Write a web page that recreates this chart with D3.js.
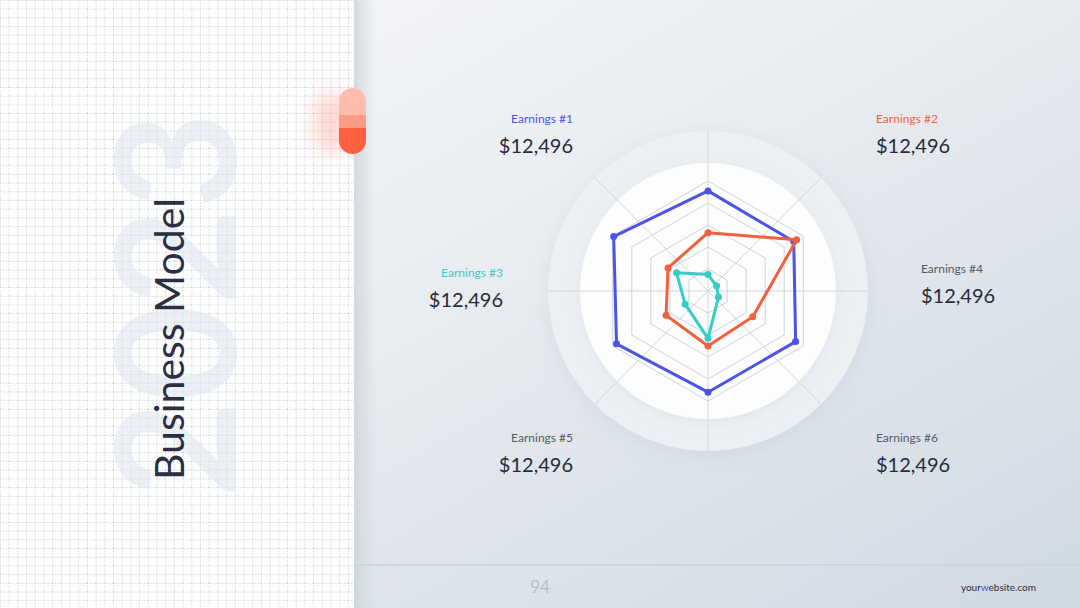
<!DOCTYPE html>
<html>
<head>
<meta charset="utf-8">
<script src="https://cdn.jsdelivr.net/npm/d3@7/dist/d3.min.js"></script>
<style>
  html, body { margin: 0; padding: 0; background: #fff; }
  svg { display: block; }
</style>
</head>
<body>
<svg id="chart" width="1080" height="608"></svg>
<script>
// ---------------- data ----------------
const axisKeys = ["E1", "E2", "E4", "E6", "E5", "E3"]; // clockwise from top
const seriesNames = ["Blue", "Red", "Teal"];
const blueValues = [91, 90, 92, 92, 96, 99];
const redValues  = [53, 93, 47, 50, 44, 42];
const tealValues = [15, 9, 11, 43, 24, 33];
const seriesColors = ["#4a54e6", "#f2603d", "#36cdc4"];
const radarMax = 100;
const gridLevels = [20, 40, 60, 80, 100];

const labelTitles = ["Earnings #1", "Earnings #2", "Earnings #3", "Earnings #4", "Earnings #5", "Earnings #6"];
const labelValues = ["$12,496", "$12,496", "$12,496", "$12,496", "$12,496", "$12,496"];
const labelColors = ["#4a54e6", "#f2603d", "#36cdc4", "#555a63", "#555a63", "#555a63"];
const labelX      = [573, 876, 503, 921, 573, 876];
const labelAnchor = ["end", "start", "end", "start", "end", "start"];
const labelY      = [123, 123, 277, 273, 442, 442];

const titleText = "Business Model";
const yearText = "2023";
const pageNumber = "94";

// ---------------- drawing ----------------
const W = 1080, H = 608;
const svg = d3.select("#chart");
const defs = svg.append("defs");

// background gradient
const bg = defs.append("linearGradient").attr("id", "bgGrad")
  .attr("x1", "0").attr("y1", "0").attr("x2", "1").attr("y2", "1");
bg.append("stop").attr("offset", "0%").attr("stop-color", "#f8f9fa");
bg.append("stop").attr("offset", "45%").attr("stop-color", "#e9ecf0");
bg.append("stop").attr("offset", "100%").attr("stop-color", "#cfd9e3");

// panel edge shadow
const edge = defs.append("linearGradient").attr("id", "edgeGrad")
  .attr("x1", "0").attr("y1", "0").attr("x2", "1").attr("y2", "0");
edge.append("stop").attr("offset", "0%").attr("stop-color", "#c9d0d8").attr("stop-opacity", 0.7);
edge.append("stop").attr("offset", "100%").attr("stop-color", "#c9d0d8").attr("stop-opacity", 0);

// grid pattern
const pat = defs.append("pattern").attr("id", "gridPat")
  .attr("width", 8.7).attr("height", 8.7).attr("patternUnits", "userSpaceOnUse");
pat.append("path").attr("d", "M0 0.5 H8.7").attr("stroke", "#c8ced6")
  .attr("stroke-width", 1).attr("stroke-dasharray", "1 1.6");
pat.append("path").attr("d", "M0.5 0 V8.7").attr("stroke", "#c8ced6")
  .attr("stroke-width", 1).attr("stroke-dasharray", "1 1.6");

// filters
const sh = defs.append("filter").attr("id", "discShadow")
  .attr("x", "-30%").attr("y", "-30%").attr("width", "160%").attr("height", "160%");
sh.append("feDropShadow").attr("dx", 0).attr("dy", 4).attr("stdDeviation", 10)
  .attr("flood-color", "#8a96a6").attr("flood-opacity", 0.16);
const sh2 = defs.append("filter").attr("id", "innerShadow")
  .attr("x", "-30%").attr("y", "-30%").attr("width", "160%").attr("height", "160%");
sh2.append("feDropShadow").attr("dx", 0).attr("dy", 3).attr("stdDeviation", 7)
  .attr("flood-color", "#8a96a6").attr("flood-opacity", 0.14);
const glow = defs.append("filter").attr("id", "glow")
  .attr("x", "-100%").attr("y", "-50%").attr("width", "300%").attr("height", "200%");
glow.append("feGaussianBlur").attr("stdDeviation", 9);

// main background
svg.append("rect").attr("width", W).attr("height", H).attr("fill", "url(#bgGrad)");

// left panel
svg.append("rect").attr("x", 354).attr("y", 0).attr("width", 22).attr("height", H).attr("fill", "url(#edgeGrad)");
svg.append("rect").attr("x", 0).attr("y", 0).attr("width", 354).attr("height", H).attr("fill", "#fefefe");
svg.append("rect").attr("x", 0).attr("y", 0).attr("width", 354).attr("height", H).attr("fill", "url(#gridPat)");

// big year text
svg.append("text")
  .attr("transform", "translate(236,305) rotate(-90)")
  .attr("text-anchor", "middle")
  .attr("font-family", "Lato, 'Open Sans', sans-serif")
  .attr("font-weight", 700)
  .attr("font-size", 166)
  .attr("fill", "#dfe6ee")
  .attr("fill-opacity", 0.6)
  .text(yearText);

// title
svg.append("text")
  .attr("transform", "translate(184,339) rotate(-90)")
  .attr("text-anchor", "middle")
  .attr("font-family", "Lato, 'Open Sans', sans-serif")
  .attr("font-size", 41)
  .attr("fill", "#2a3042")
  .text(titleText);

// pill with glow
svg.append("rect").attr("x", 314).attr("y", 94).attr("width", 38).attr("height", 58)
  .attr("rx", 14).attr("fill", "#ff9a86").attr("opacity", 0.35).attr("filter", "url(#glow)");
const pillClip = defs.append("clipPath").attr("id", "pillClip");
pillClip.append("rect").attr("x", 339).attr("y", 88).attr("width", 27).attr("height", 66).attr("rx", 13.5);
const pill = svg.append("g").attr("clip-path", "url(#pillClip)");
pill.append("rect").attr("x", 339).attr("y", 88).attr("width", 27).attr("height", 27).attr("fill", "#ffbcad");
pill.append("rect").attr("x", 339).attr("y", 115).attr("width", 27).attr("height", 13).attr("fill", "#ff9b85");
pill.append("rect").attr("x", 339).attr("y", 128).attr("width", 27).attr("height", 26).attr("fill", "#ff603f");

// radar
const cx = 708, cy = 291;
const rOuterDisc = 160, rInnerDisc = 128, rRadar = 110;
const g = svg.append("g").attr("transform", `translate(${cx},${cy})`);

g.append("circle").attr("r", rOuterDisc).attr("fill", "#edf0f3").attr("filter", "url(#discShadow)");
g.append("circle").attr("r", rInnerDisc).attr("fill", "#fdfdfe").attr("filter", "url(#innerShadow)");

// spokes (8 directions)
const spokeAngles = d3.range(8).map(i => i * Math.PI / 4);
g.selectAll("line.spoke").data(spokeAngles).join("line")
  .attr("class", "spoke")
  .attr("x1", 0).attr("y1", 0)
  .attr("x2", a => rOuterDisc * Math.cos(a))
  .attr("y2", a => rOuterDisc * Math.sin(a))
  .attr("stroke", "#d3d7dc").attr("stroke-width", 1);

const rScale = d3.scaleLinear().domain([0, radarMax]).range([0, rRadar]);
const angleScale = d3.scalePoint().domain(axisKeys).range([0, 2 * Math.PI * (axisKeys.length - 1) / axisKeys.length]);

const radial = d3.lineRadial()
  .angle((d, i) => angleScale(axisKeys[i]))
  .radius(d => rScale(d))
  .curve(d3.curveLinearClosed);

// grid hexagons
g.selectAll("path.grid").data(gridLevels).join("path")
  .attr("class", "grid")
  .attr("d", lv => radial(axisKeys.map(() => lv)))
  .attr("fill", "none").attr("stroke", "#c9d3de").attr("stroke-width", 1);

// series
const allSeries = [blueValues, redValues, tealValues];
const sg = g.selectAll("g.series").data(allSeries).join("g").attr("class", "series");
sg.append("path")
  .attr("d", d => radial(d))
  .attr("fill", "none")
  .attr("stroke", (d, i) => seriesColors[i])
  .attr("stroke-width", 3)
  .attr("stroke-linejoin", "round");
sg.each(function(vals, si) {
  d3.select(this).selectAll("circle").data(vals).join("circle")
    .attr("cx", (v, i) => rScale(v) * Math.sin(angleScale(axisKeys[i])))
    .attr("cy", (v, i) => -rScale(v) * Math.cos(angleScale(axisKeys[i])))
    .attr("r", 3.5)
    .attr("fill", seriesColors[si]);
});

// labels
const lg = svg.selectAll("g.lab").data(labelTitles).join("g").attr("class", "lab");
lg.append("text")
  .attr("x", (d, i) => labelX[i]).attr("y", (d, i) => labelY[i])
  .attr("text-anchor", (d, i) => labelAnchor[i])
  .attr("font-family", "Lato, 'Open Sans', sans-serif")
  .attr("font-size", 12)
  .attr("fill", (d, i) => labelColors[i])
  .text(d => d);
lg.append("text")
  .attr("x", (d, i) => labelX[i]).attr("y", (d, i) => labelY[i] + 30)
  .attr("text-anchor", (d, i) => labelAnchor[i])
  .attr("font-family", "Lato, 'Open Sans', sans-serif")
  .attr("font-size", 20)
  .attr("fill", "#262b38")
  .text((d, i) => labelValues[i]);

// footer
svg.append("line").attr("x1", 354).attr("x2", W).attr("y1", 565).attr("y2", 565)
  .attr("stroke", "#cdd5de").attr("stroke-width", 2);
svg.append("text").attr("x", 540).attr("y", 593).attr("text-anchor", "middle")
  .attr("font-family", "Lato, 'Open Sans', sans-serif").attr("font-size", 17)
  .attr("fill", "#b7bec8").text(pageNumber);
const site = svg.append("text").attr("x", 1036).attr("y", 591).attr("text-anchor", "end")
  .attr("font-family", "Lato, 'Open Sans', sans-serif").attr("font-size", 10).attr("fill", "#2a3042");
site.append("tspan").text("your");
site.append("tspan").attr("fill", "#4a54e6").text("w");
site.append("tspan").text("ebsite.com");
</script>
</body>
</html>
